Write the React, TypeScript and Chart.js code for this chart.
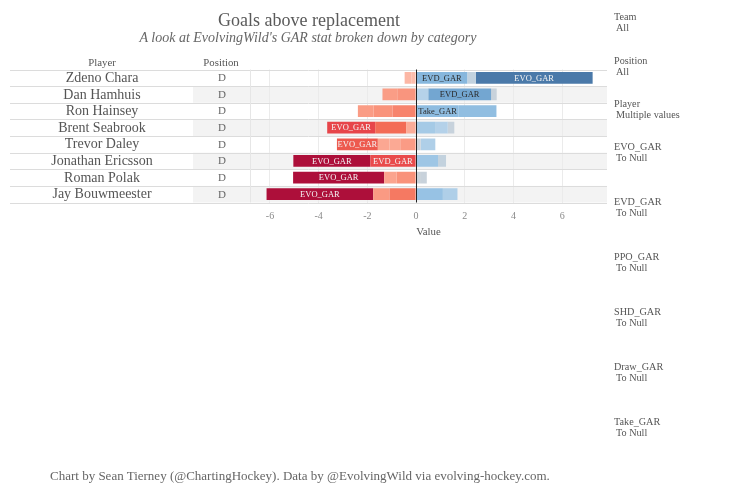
import React, { useEffect, useRef } from 'react';
import { Chart, registerables } from 'chart.js';

Chart.register(...registerables);

// ---------- data ----------
const players = [
  'Zdeno Chara',
  'Dan Hamhuis',
  'Ron Hainsey',
  'Brent Seabrook',
  'Trevor Daley',
  'Jonathan Ericsson',
  'Roman Polak',
  'Jay Bouwmeester',
];
const positions = ['D', 'D', 'D', 'D', 'D', 'D', 'D', 'D'];
const categories = ['Take_GAR', 'Draw_GAR', 'SHD_GAR', 'EVD_GAR', 'PPO_GAR', 'EVO_GAR'];
const takeGAR = [-0.2, 0.5, 1.75, 0.78, 0.19, 0.9, 0.2, 1.1];
const drawGAR = [-0.27, -0.75, -0.97, -0.41, -0.65, 0.33, 0.24, -1.09];
const shdGAR = [0, 0, -0.78, 0.52, 0.6, 0, -0.8, 0.6];
const evdGAR = [2.1, 2.58, 1.55, -1.27, -0.45, -1.88, -0.51, -0.67];
const ppoGAR = [0.35, -0.63, 0, 0.27, -0.47, 0, 0, 0];
const evoGAR = [4.8, 0.23, -0.64, -1.97, -1.68, -3.16, -3.74, -4.38];
const xTicks = [-6, -4, -2, 0, 2, 4, 6];
const filterNames = ['Team', 'Position', 'Player', 'EVO_GAR', 'EVD_GAR', 'PPO_GAR', 'SHD_GAR', 'Draw_GAR', 'Take_GAR'];
const filterValues = ['All', 'All', 'Multiple values', 'To Null', 'To Null', 'To Null', 'To Null', 'To Null', 'To Null'];

const titleText = 'Goals above replacement';
const subtitleText = "A look at EvolvingWild's GAR stat broken down by category";
const footerText = 'Chart by Sean Tierney (@ChartingHockey). Data by @EvolvingWild via evolving-hockey.com.';

// ---------- styles ----------
const FONT = "'Liberation Serif', Georgia, 'Times New Roman', serif";
const palette: [number, string][] = [
  [-3.0, '#ad0f3a'],
  [-2.0, '#e6434a'],
  [-1.6, '#ef5e4f'],
  [-1.2, '#f46f58'],
  [-0.9, '#f88b73'],
  [-0.5, '#fba58f'],
  [-0.15, '#fcc1b1'],
  [0, '#cfd3d7'],
  [0.3, '#c6d2dc'],
  [0.5, '#b5d2e9'],
  [1.0, '#98c3e4'],
  [2.0, '#8bbadf'],
  [2.6, '#72a5d1'],
  [4.8, '#4a79a9'],
];
const filterTops = [17, 61, 104, 147, 202, 257, 312, 367, 422];

function hexToRgb(h: string) {
  const n = parseInt(h.slice(1), 16);
  return [(n >> 16) & 255, (n >> 8) & 255, n & 255];
}
function colorFor(v: number): string {
  if (v <= palette[0][0]) return palette[0][1];
  if (v >= palette[palette.length - 1][0]) return palette[palette.length - 1][1];
  for (let i = 0; i < palette.length - 1; i++) {
    const [a, ca] = palette[i];
    const [b, cb] = palette[i + 1];
    if (v >= a && v <= b) {
      const t = (v - a) / (b - a);
      const A = hexToRgb(ca);
      const B = hexToRgb(cb);
      const c = A.map((x, k) => Math.round(x + (B[k] - x) * t));
      return `rgb(${c[0]},${c[1]},${c[2]})`;
    }
  }
  return '#ccc';
}
function luminance(col: string) {
  const m = col.match(/\d+/g)!.map(Number);
  const f = (x: number) => {
    const s = x / 255;
    return s <= 0.03928 ? s / 12.92 : Math.pow((s + 0.055) / 1.055, 2.4);
  };
  return 0.2126 * f(m[0]) + 0.7152 * f(m[1]) + 0.0722 * f(m[2]);
}
function rgbOf(v: number) {
  const c = colorFor(v);
  if (c.startsWith('#')) {
    const r = hexToRgb(c);
    return `rgb(${r[0]},${r[1]},${r[2]})`;
  }
  return c;
}

export default function App() {
  const ref = useRef<HTMLCanvasElement>(null);

  useEffect(() => {
    const canvas = ref.current!;
    const seriesValues = [takeGAR, drawGAR, shdGAR, evdGAR, ppoGAR, evoGAR];

    const tablePlugin = {
      id: 'tableLayout',
      beforeDraw(chart: any) {
        const { ctx, chartArea, scales } = chart;
        const y = scales.y;
        const n = players.length;
        const h = (chartArea.bottom - chartArea.top) / n;
        ctx.save();
        for (let i = 0; i < n; i++) {
          const yc = y.getPixelForValue(i);
          if (i % 2 === 1) {
            ctx.fillStyle = '#f3f3f3';
            ctx.fillRect(193, yc - h / 2, chartArea.right - 193, h);
          }
        }
        ctx.restore();
      },
      afterDatasetsDraw(chart: any) {
        const { ctx, chartArea, scales } = chart;
        const x = scales.x;
        const y = scales.y;
        const n = players.length;
        const h = (chartArea.bottom - chartArea.top) / n;
        ctx.save();
        // segment labels
        ctx.font = `8.5px ${FONT}`;
        ctx.textAlign = 'center';
        ctx.textBaseline = 'middle';
        chart.data.datasets.forEach((ds: any, di: number) => {
          const meta = chart.getDatasetMeta(di);
          meta.data.forEach((el: any, idx: number) => {
            const v = ds.data[idx];
            if (!v) return;
            const w = Math.abs(el.x - el.base);
            const txt = categories[di];
            const tw = ctx.measureText(txt).width;
            if (w >= tw + 1) {
              const lum = luminance(rgbOf(v));
              ctx.fillStyle = lum < 0.3 ? '#f4f4f4' : '#2a2a2a';
              ctx.fillText(txt, (el.x + el.base) / 2, el.y + 0.5);
            }
          });
        });
        // row separators
        ctx.strokeStyle = '#dcdcdc';
        ctx.lineWidth = 1;
        for (let i = 0; i <= n; i++) {
          const yy = Math.round(chartArea.top + i * h) + 0.5;
          ctx.beginPath();
          ctx.moveTo(10, yy);
          ctx.lineTo(chartArea.right, yy);
          ctx.stroke();
        }
        // column separator
        ctx.strokeStyle = '#e6e6e6';
        ctx.beginPath();
        ctx.moveTo(Math.round(chartArea.left) + 0.5, chartArea.top);
        ctx.lineTo(Math.round(chartArea.left) + 0.5, chartArea.bottom);
        ctx.stroke();
        // zero line
        const x0 = Math.round(x.getPixelForValue(0)) + 0.5;
        ctx.strokeStyle = '#222';
        ctx.beginPath();
        ctx.moveTo(x0, chartArea.top);
        ctx.lineTo(x0, chartArea.bottom);
        ctx.stroke();
        // table text
        ctx.textAlign = 'center';
        ctx.textBaseline = 'middle';
        ctx.fillStyle = '#555';
        ctx.font = `10.8px ${FONT}`;
        ctx.fillText('Player', 102, chartArea.top - 6);
        ctx.fillText('Position', 221, chartArea.top - 6);
        for (let i = 0; i < n; i++) {
          const yc = y.getPixelForValue(i);
          ctx.font = `14px ${FONT}`;
          ctx.fillStyle = '#555';
          ctx.fillText(players[i], 102, yc + 0.5);
          ctx.font = `11px ${FONT}`;
          ctx.fillStyle = '#666';
          ctx.fillText(positions[i], 222, yc + 0.5);
        }
        ctx.restore();
      },
    };

    const chart = new Chart(canvas, {
      type: 'bar',
      data: {
        labels: players,
        datasets: categories.map((c, i) => ({
          label: c,
          data: seriesValues[i],
          backgroundColor: (cx: any) => colorFor(cx.raw as number),
          borderWidth: 0,
          barPercentage: 0.7,
          categoryPercentage: 1,
        })),
      },
      options: {
        indexAxis: 'y',
        responsive: false,
        animation: false,
        layout: { padding: { left: 250, right: 143, top: 69.5, bottom: 260.5 } },
        plugins: {
          legend: { display: false },
          tooltip: { enabled: false },
          title: { display: false },
        },
        scales: {
          x: {
            type: 'linear',
            stacked: true,
            min: -6.82,
            max: 7.84,
            afterBuildTicks: (s: any) => {
              s.ticks = xTicks.map((v) => ({ value: v }));
            },
            afterFit: (s: any) => {
              s.height = 36;
            },
            grid: {
              color: (c: any) => (c.tick && c.tick.value === 0 ? 'rgba(0,0,0,0)' : '#ebebeb'),
              drawTicks: false,
              lineWidth: 1,
            },
            border: { display: false },
            ticks: {
              padding: 8,
              color: '#8a8a8a',
              font: { family: FONT, size: 10 },
              callback: (v: any) => String(v),
            },
            title: {
              display: true,
              text: 'Value',
              color: '#555',
              font: { family: FONT, size: 10.8 },
              padding: { top: 4.5, bottom: 0 },
            },
          },
          y: {
            type: 'category',
            stacked: true,
            display: false,
            offset: true,
          },
        },
      },
      plugins: [tablePlugin],
    } as any);

    return () => chart.destroy();
  }, []);

  const txt = (extra: React.CSSProperties): React.CSSProperties => ({
    position: 'absolute',
    whiteSpace: 'nowrap',
    fontFamily: FONT,
    ...extra,
  });

  return (
    <div style={{ position: 'absolute', left: 0, top: 0, width: 750, height: 499, background: '#fff', overflow: 'hidden' }}>
      <canvas ref={ref} width={750} height={499} style={{ position: 'absolute', left: 0, top: 0, width: 750, height: 499 }} />
      <div style={txt({ left: 0, width: 618, top: 9, lineHeight: '22px', fontSize: 18, color: '#5a5a5a', textAlign: 'center' })}>
        {titleText}
      </div>
      <div style={txt({ left: 0, width: 616, top: 29, lineHeight: '18px', fontSize: 14, color: '#666', fontStyle: 'italic', textAlign: 'center' })}>
        {subtitleText}
      </div>
      {filterNames.map((name, i) => (
        <React.Fragment key={name}>
          <div style={txt({ left: 614, top: filterTops[i] - 6, lineHeight: '12px', fontSize: 10.2, color: '#555' })}>{name}</div>
          <div style={txt({ left: 616, top: filterTops[i] + 5, lineHeight: '12px', fontSize: 10.2, color: '#555' })}>
            {filterValues[i]}
          </div>
        </React.Fragment>
      ))}
      <div style={txt({ left: 50, top: 468, lineHeight: '16px', fontSize: 13, color: '#666' })}>{footerText}</div>
    </div>
  );
}
